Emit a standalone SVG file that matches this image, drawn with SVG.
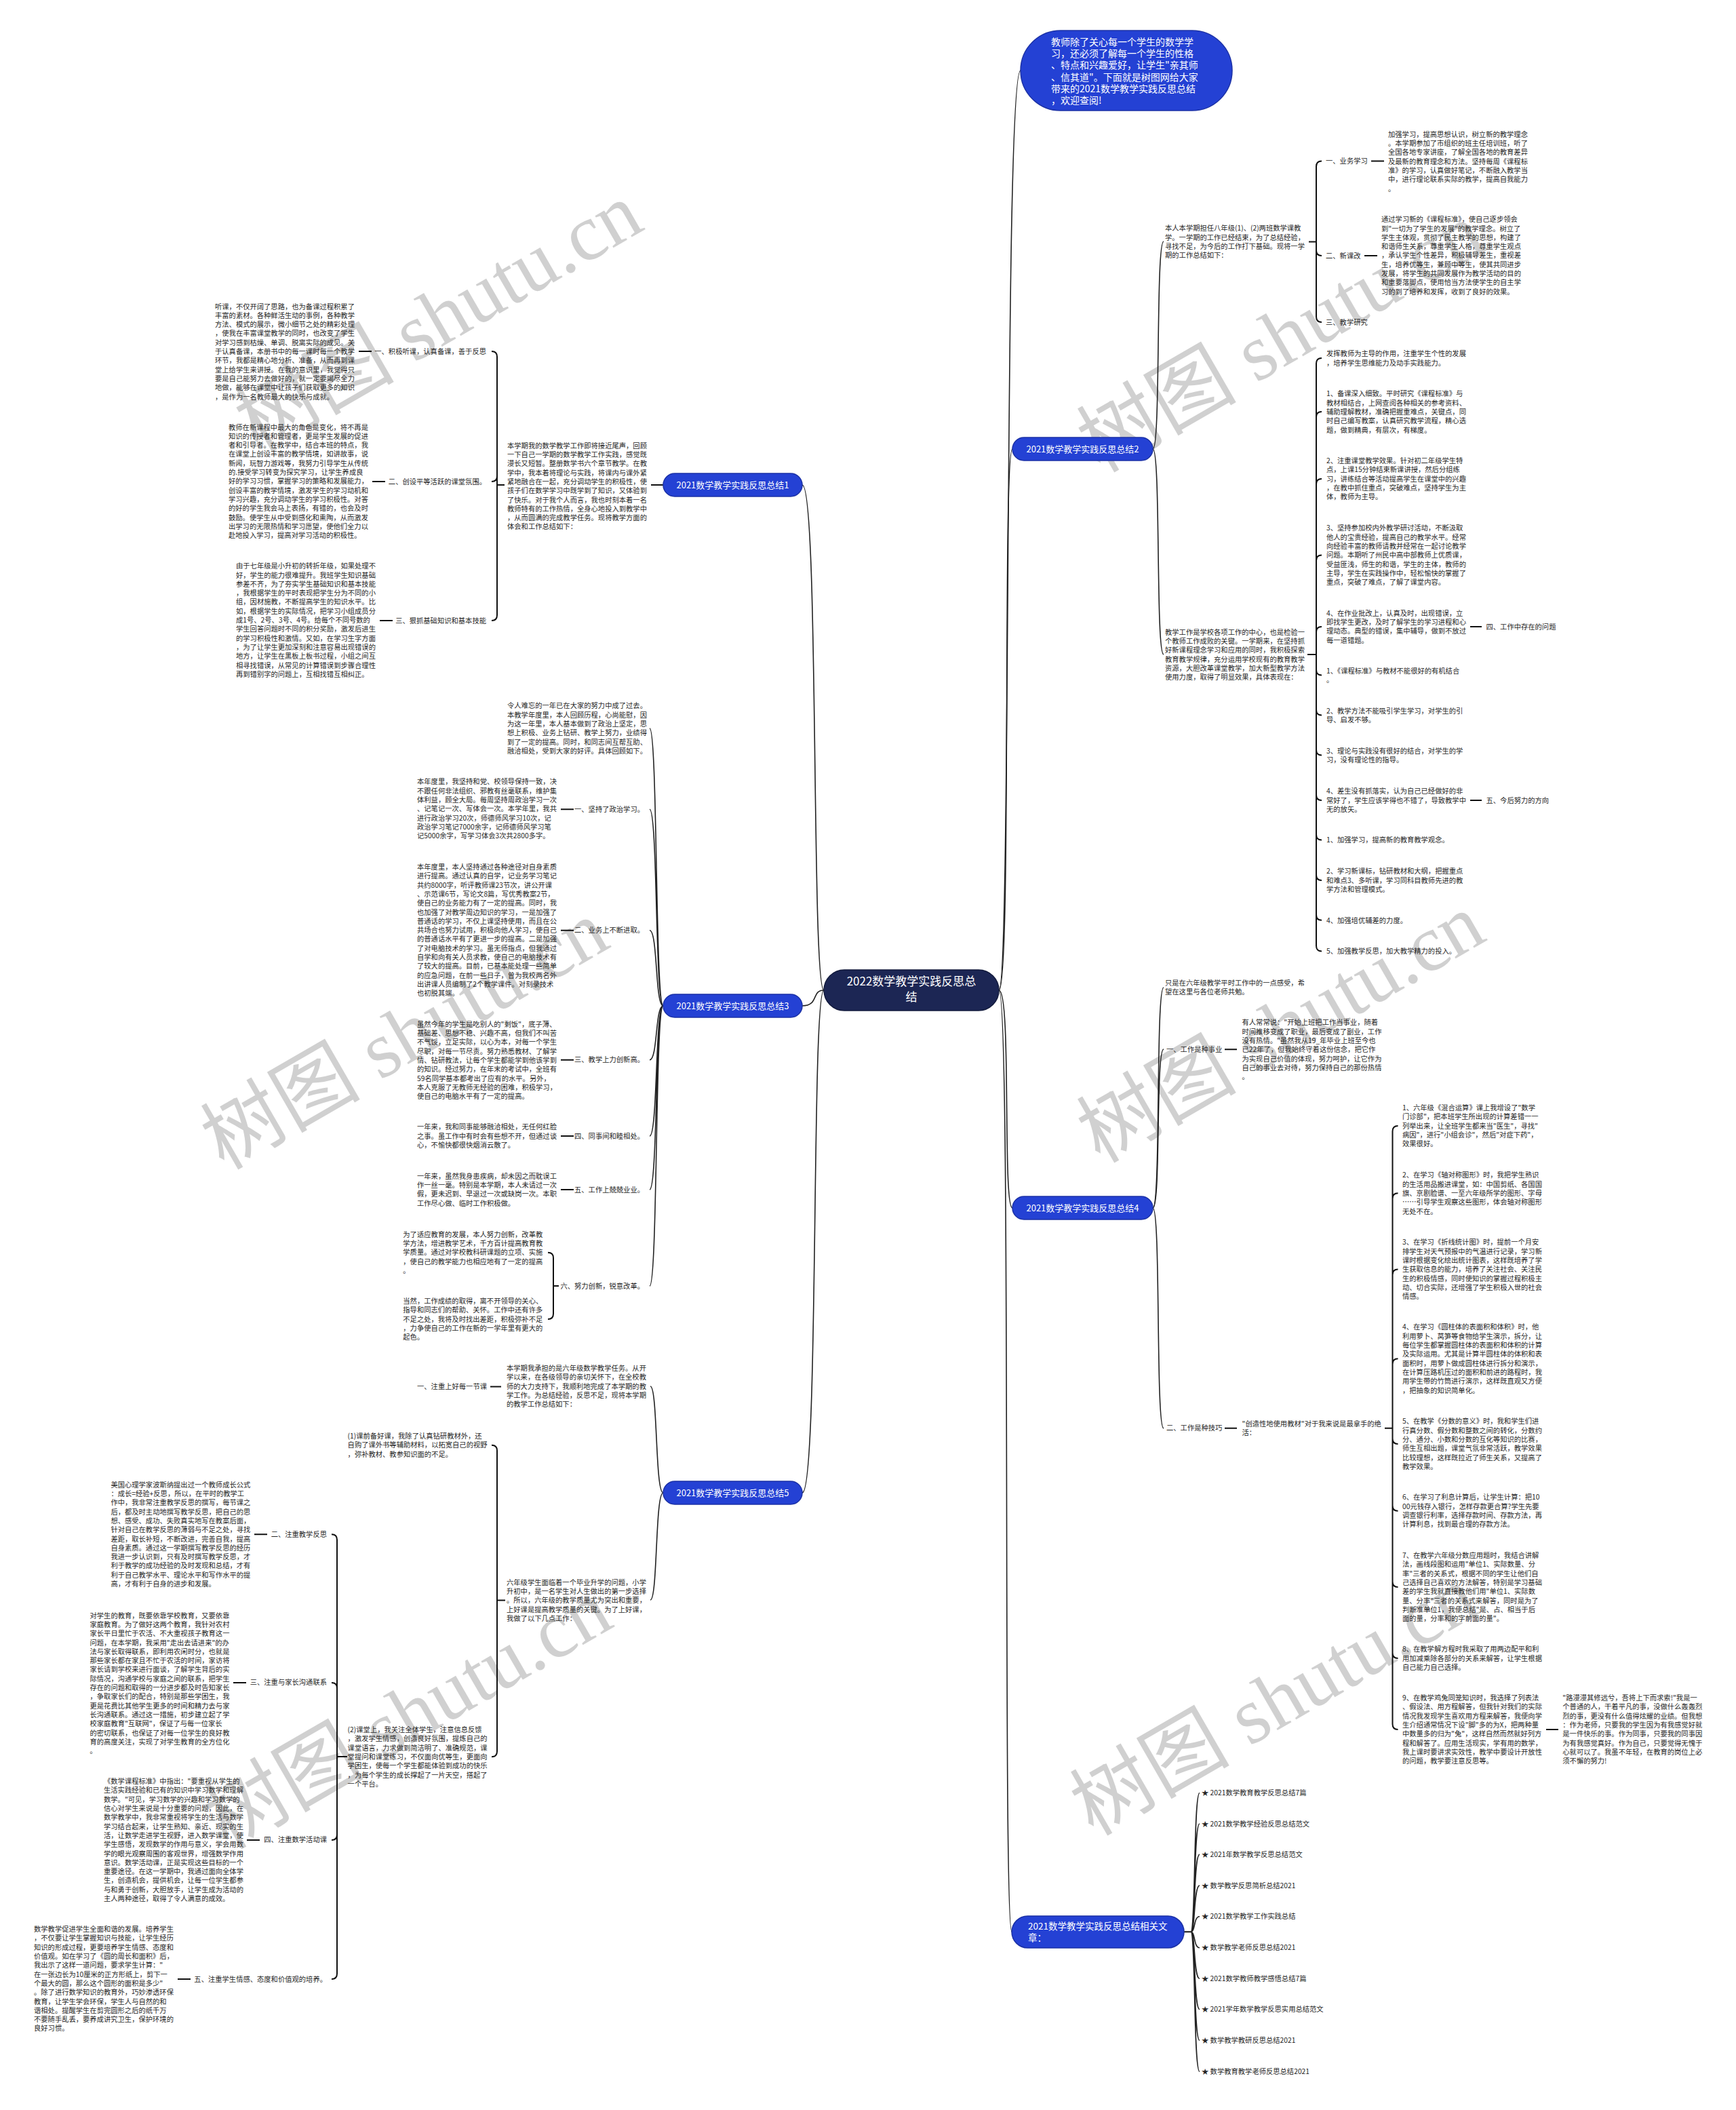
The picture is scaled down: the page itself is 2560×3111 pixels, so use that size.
<svg xmlns="http://www.w3.org/2000/svg" width="2560" height="3111" viewBox="0 0 2560 3111">
<style>
.t{font-family:"Noto Sans CJK SC","Noto Sans",sans-serif;font-size:10.3px;fill:#262626}
.e{text-anchor:end}
.nt{font-family:"Noto Sans CJK SC","Noto Sans",sans-serif;font-size:13px;fill:#fff}
.node{fill:#2441d4;stroke:#1b31a6;stroke-width:1.5}
.ln{fill:none;stroke:#111;stroke-width:2}
.cv{fill:none;stroke:#222;stroke-width:1.6}
.wm{font-family:"Liberation Serif","Noto Sans CJK SC",serif;font-size:118px;fill:#bdbdbd;opacity:.7}
</style>
<rect width="2560" height="3111" fill="#fff"/>
<g id="watermarks">
<text class="wm" transform="translate(380,668) rotate(-30)">树图 shutu.cn</text>
<text class="wm" transform="translate(1622,698) rotate(-30)">树图 shutu.cn</text>
<text class="wm" transform="translate(330,1726) rotate(-30)">树图 shutu.cn</text>
<text class="wm" transform="translate(1622,1716) rotate(-30)">树图 shutu.cn</text>
<text class="wm" transform="translate(335,2728) rotate(-30)">树图 shutu.cn</text>
<text class="wm" transform="translate(1612,2708) rotate(-30)">树图 shutu.cn</text>
</g>
<g id="connectors">
<path class="cv" d="M1473,1460 C1492,1460 1480,104 1505,104"/>
<path class="cv" d="M1473,1460 C1492,1460 1478,662 1493,662"/>
<path class="cv" d="M1473,1460 C1492,1460 1478,1781 1493,1781"/>
<path class="cv" d="M1473,1460 C1492,1460 1478,2848 1492,2848"/>
<path class="cv" d="M1215,1460 C1196,1460 1208,715 1183,715"/>
<path class="cv" d="M1215,1460 C1196,1460 1208,1483 1183,1483"/>
<path class="cv" d="M1215,1460 C1196,1460 1208,2201 1183,2201"/>
<path class="cv" d="M1700,662 C1712,662 1704,356 1716,356"/>
<path class="cv" d="M1700,662 C1712,662 1704,965 1716,965"/>
<path class="ln" d="M1930,356.5H1941M1941,245.5V467M1941,245.5Q1941,237.5 1949,237.5M1941,369Q1941,377 1949,377M1941,467Q1941,475 1949,475"/>
<path class="ln" d="M2022,237.5H2041M2012,377H2031"/>
<path class="ln" d="M1928,965H1941M1941,536V1394.4M1941,536Q1941,528 1949,528M1941,615Q1941,607 1949,607M1941,714Q1941,706 1949,706M1941,826.6Q1941,818.6 1949,818.6M1941,932Q1941,924 1949,924M1941,987.6Q1941,995.6 1949,995.6M1941,1046.6Q1941,1054.6 1949,1054.6M1941,1105.6Q1941,1113.6 1949,1113.6M1941,1172Q1941,1180 1949,1180M1941,1230.6Q1941,1238.6 1949,1238.6M1941,1289.9Q1941,1297.9 1949,1297.9M1941,1348.8Q1941,1356.8 1949,1356.8M1941,1394.4Q1941,1402.4 1949,1402.4"/>
<path class="ln" d="M2168,924H2185M2168,1180H2185"/>
<path class="cv" d="M1700,1781 C1712,1781 1704,1456 1716,1456"/>
<path class="cv" d="M1700,1781 C1712,1781 1704,1547 1716,1547"/>
<path class="cv" d="M1700,1781 C1712,1781 1704,2106 1716,2106"/>
<path class="ln" d="M1806,1547.3H1824M1806,2105.7H1824M2042,2105.7H2053.5"/>
<path class="ln" d="M2053.5,1668V2542M2053.5,1668Q2053.5,1660 2061.5,1660M2053.5,1767.3Q2053.5,1759.3 2061.5,1759.3M2053.5,1879.6Q2053.5,1871.6 2061.5,1871.6M2053.5,2011.3Q2053.5,2003.3 2061.5,2003.3M2053.5,2121Q2053.5,2129 2061.5,2129M2053.5,2219.7Q2053.5,2227.7 2061.5,2227.7M2053.5,2331.9Q2053.5,2339.9 2061.5,2339.9M2053.5,2437Q2053.5,2445 2061.5,2445M2053.5,2541.9Q2053.5,2549.9 2061.5,2549.9"/>
<path class="ln" d="M2280,2550H2298"/>
<path class="ln" d="M1746,2848.3H1756"/>
<path class="cv" d="M1756,2848.3C1763,2848.3 1760,2643.5 1769,2643.5M1756,2848.3C1763,2848.3 1760,2689 1769,2689M1756,2848.3C1763,2848.3 1760,2734.3 1769,2734.3M1756,2848.3C1763,2848.3 1760,2780 1769,2780M1756,2848.3C1763,2848.3 1760,2825.7 1769,2825.7M1756,2848.3C1763,2848.3 1760,2871.7 1769,2871.7M1756,2848.3C1763,2848.3 1760,2917.3 1769,2917.3M1756,2848.3C1763,2848.3 1760,2962.7 1769,2962.7M1756,2848.3C1763,2848.3 1760,3008.3 1769,3008.3M1756,2848.3C1763,2848.3 1760,3054.3 1769,3054.3"/>
<path class="ln" d="M960,715H978"/>
<path class="ln" d="M744,715H733M733,526V907M733,526Q733,518 725,518M733,702Q733,710 725,710M733,907Q733,915 725,915"/>
<path class="ln" d="M529,518H548M549,710H568M560,915H579"/>
<path class="cv" d="M978,1483 C966,1483 970,1074 958,1074M978,1483 C966,1483 970,1193.3 958,1193.3M978,1483 C966,1483 970,1371.7 958,1371.7M978,1483 C966,1483 970,1562.7 958,1562.7M978,1483 C966,1483 970,1675 958,1675M978,1483 C966,1483 970,1754 958,1754M978,1483 C966,1483 970,1896 958,1896"/>
<path class="ln" d="M827,1193.3H846M827,1371.7H846M827,1562.7H846M827,1675H846M827,1754H846"/>
<path class="ln" d="M824,1896H816M816,1854.7V1937M816,1854.7Q816,1846.7 808,1846.7M816,1937Q816,1945 808,1945"/>
<path class="cv" d="M978,2201 C966,2201 970,2044 959,2044M978,2201 C966,2201 970,2359 959,2359"/>
<path class="ln" d="M723,2044.5H739"/>
<path class="ln" d="M745,2359.5H733M733,2138.7V2582.2M733,2138.7Q733,2130.7 725,2130.7M733,2582.2Q733,2590.2 725,2590.2"/>
<path class="ln" d="M512,2590H497M497,2270.3V2910M497,2270.3Q497,2262.3 489,2262.3M497,2489Q497,2481 489,2481M497,2704.9Q497,2712.9 489,2712.9M497,2910Q497,2918 489,2918"/>
<path class="ln" d="M375,2262.3H394M344,2481H363M364,2712.9H383M262,2918H281"/>
</g>
<g id="center">
<rect x="1215" y="1430" width="258" height="60" rx="30" fill="#1c2654" stroke="#121a3c" stroke-width="1.5"/>
<text class="nt" style="font-size:17px" text-anchor="middle" x="1344" y="1453">2022数学教学实践反思总<tspan x="1344" dy="23">结</tspan></text>
</g>
<g id="top-node">
<rect class="node" x="1505" y="45" width="312" height="118" rx="59"/>
<text class="nt" style="font-size:14px" x="1550" y="66.7">教师除了关心每一个学生的数学学<tspan x="1550" dy="17.3">习，还必须了解每一个学生的性格</tspan><tspan x="1550" dy="17.3">、特点和兴趣爱好，让学生"亲其师</tspan><tspan x="1550" dy="17.3">、信其道"。下面就是树图网给大家</tspan><tspan x="1550" dy="17.3">带来的2021数学教学实践反思总结</tspan><tspan x="1550" dy="17.3">，欢迎查阅!</tspan></text>
</g>
<g id="branch2">
<rect class="node" x="1493" y="645" width="207" height="34" rx="17"/>
<text class="nt" text-anchor="middle" x="1596.5" y="666.5">2021数学教学实践反思总结2</text>
</g>
<g id="b2-intro1"><text class="t" x="1718" y="340.4">本人本学期担任八年级(1)、(2)两班数学课教<tspan x="1718" dy="13.3">学。一学期的工作已经结束，为了总结经验，</tspan><tspan x="1718" dy="13.3">寻找不足，为今后的工作打下基础。现将一学</tspan><tspan x="1718" dy="13.3">期的工作总结如下：</tspan></text></g>
<g id="b2-yewu"><text class="t" x="1955" y="241.2">一、业务学习</text></g>
<g id="b2-yewu-t"><text class="t" x="2047" y="201.7">加强学习，提高思想认识，树立新的教学理念<tspan x="2047" dy="13.3">。本学期参加了市组织的班主任培训班，听了</tspan><tspan x="2047" dy="13.3">全国各地专家讲座，了解全国各地的教育差异</tspan><tspan x="2047" dy="13.3">及最新的教育理念和方法。坚持每周《课程标</tspan><tspan x="2047" dy="13.3">准》的学习，认真做好笔记，不断融入教学当</tspan><tspan x="2047" dy="13.3">中，进行理论联系实际的教学，提高自我能力</tspan><tspan x="2047" dy="13.3">。</tspan></text></g>
<g id="b2-xinkegai"><text class="t" x="1955" y="380.7">二、新课改</text></g>
<g id="b2-xinkegai-t"><text class="t" x="2037" y="327.2">通过学习新的《课程标准》，使自己逐步领会<tspan x="2037" dy="13.3">到"一切为了学生的发展"的教学理念。树立了</tspan><tspan x="2037" dy="13.3">学生主体观，贯彻了民主教学的思想，构建了</tspan><tspan x="2037" dy="13.3">和谐师生关系，尊重学生人格，尊重学生观点</tspan><tspan x="2037" dy="13.3">，承认学生个性差异，积极辅导差生，重视差</tspan><tspan x="2037" dy="13.3">生，培养优等生，兼顾中等生，使其共同进步</tspan><tspan x="2037" dy="13.3">发展，将学生的共同发展作为教学活动的目的</tspan><tspan x="2037" dy="13.3">和重要落脚点，使用恰当方法使学生的自主学</tspan><tspan x="2037" dy="13.3">习的到了培养和发挥，收到了良好的效果。</tspan></text></g>
<g id="b2-yanjiu"><text class="t" x="1955" y="478.7">三、教学研究</text></g>
<g id="b2-intro2"><text class="t" x="1718" y="935.7">教学工作是学校各项工作的中心，也是检验一<tspan x="1718" dy="13.3">个教师工作成败的关键。一学期来，在坚持抓</tspan><tspan x="1718" dy="13.3">好新课程理念学习和应用的同时，我积极探索</tspan><tspan x="1718" dy="13.3">教育教学规律，充分运用学校现有的教育教学</tspan><tspan x="1718" dy="13.3">资源，大胆改革课堂教学，加大新型教学方法</tspan><tspan x="1718" dy="13.3">使用力度，取得了明显效果，具体表现在：</tspan></text></g>
<g id="b2-a"><text class="t" x="1956" y="525.2">发挥教师为主导的作用，注重学生个性的发展<tspan x="1956" dy="13.3">，培养学生思维能力及动手实践能力。</tspan></text></g>
<g id="b2-b"><text class="t" x="1956" y="584.3">1、备课深入细致。平时研究《课程标准》与<tspan x="1956" dy="13.3">教材相结合，上网查阅各种相关的参考资料、</tspan><tspan x="1956" dy="13.3">辅助理解教材，准确把握重难点，关键点，同</tspan><tspan x="1956" dy="13.3">时自己编写教案，认真研究教学流程，精心选</tspan><tspan x="1956" dy="13.3">题，做到精典，有层次，有梯度。</tspan></text></g>
<g id="b2-c"><text class="t" x="1956" y="683.1">2、注重课堂教学效果。针对初二年级学生特<tspan x="1956" dy="13.3">点，上课15分钟结束新课讲授，然后分组练</tspan><tspan x="1956" dy="13.3">习，讲练结合等活动提高学生在课堂中的兴趣</tspan><tspan x="1956" dy="13.3">，在教中抓住重点，突破难点，坚持学生为主</tspan><tspan x="1956" dy="13.3">体，教师为主导。</tspan></text></g>
<g id="b2-d"><text class="t" x="1956" y="782.4">3、坚持参加校内外教学研讨活动，不断汲取<tspan x="1956" dy="13.3">他人的宝贵经验，提高自己的教学水平。经常</tspan><tspan x="1956" dy="13.3">向经验丰富的教师请教并经常在一起讨论教学</tspan><tspan x="1956" dy="13.3">问题。本期听了州民中高中部教师上优质课，</tspan><tspan x="1956" dy="13.3">受益匪浅，师生的和谐，学生的主体，教师的</tspan><tspan x="1956" dy="13.3">主导，学生在实践操作中，轻松愉快的掌握了</tspan><tspan x="1956" dy="13.3">重点，突破了难点，了解了课堂内容。</tspan></text></g>
<g id="b2-e"><text class="t" x="1956" y="907.7">4、在作业批改上，认真及时，出现错误，立<tspan x="1956" dy="13.3">即找学生更改，及时了解学生的学习进程和心</tspan><tspan x="1956" dy="13.3">理动态。典型的错误，集中辅导，做到不放过</tspan><tspan x="1956" dy="13.3">每一道错题。</tspan></text></g>
<g id="b2-wenti"><text class="t" x="2191.5" y="927.7">四、工作中存在的问题</text></g>
<g id="b2-f"><text class="t" x="1956" y="992.7">1、《课程标准》与教材不能很好的有机结合<tspan x="1956" dy="13.3">。</tspan></text></g>
<g id="b2-g"><text class="t" x="1956" y="1051.7">2、教学方法不能吸引学生学习，对学生的引<tspan x="1956" dy="13.3">导、启发不够。</tspan></text></g>
<g id="b2-h"><text class="t" x="1956" y="1110.7">3、理论与实践没有很好的结合，对学生的学<tspan x="1956" dy="13.3">习，没有理论性的指导。</tspan></text></g>
<g id="b2-i"><text class="t" x="1956" y="1170.2">4、差生没有抓落实，认为自己已经做好的非<tspan x="1956" dy="13.3">常好了，学生应该学得也不错了，导致教学中</tspan><tspan x="1956" dy="13.3">无的放矢。</tspan></text></g>
<g id="b2-fangxiang"><text class="t" x="2191.5" y="1183.7">五、今后努力的方向</text></g>
<g id="b2-j"><text class="t" x="1956" y="1242.3">1、加强学习，提高新的教育教学观念。</text></g>
<g id="b2-k"><text class="t" x="1956" y="1288.3">2、学习新课标，钻研教材和大纲，把握重点<tspan x="1956" dy="13.3">和难点3、多听课，学习同科目教师先进的教</tspan><tspan x="1956" dy="13.3">学方法和管理模式。</tspan></text></g>
<g id="b2-l"><text class="t" x="1956" y="1360.5">4、加强培优辅差的力度。</text></g>
<g id="b2-m"><text class="t" x="1956" y="1406.1">5、加强教学反思，加大教学精力的投入。</text></g>
<g id="branch4">
<rect class="node" x="1493" y="1764" width="207" height="34" rx="17"/>
<text class="nt" text-anchor="middle" x="1596.5" y="1785.5">2021数学教学实践反思总结4</text>
</g>
<g id="b4-intro"><text class="t" x="1718" y="1453">只是在六年级教学平时工作中的一点感受，希<tspan x="1718" dy="13.3">望在这里与各位老师共勉。</tspan></text></g>
<g id="b4-shiye"><text class="t" x="1720" y="1551">一、工作是种事业</text></g>
<g id="b4-shiye-t"><text class="t" x="1831.5" y="1511.4">有人常常说："开始上班把工作当事业，随着<tspan x="1831.5" dy="13.3">时间推移变成了职业，最后变成了副业，工作</tspan><tspan x="1831.5" dy="13.3">没有热情。"虽然我从19_年毕业上班至今也</tspan><tspan x="1831.5" dy="13.3">已22年了，但我始终守着这份信念，把它作</tspan><tspan x="1831.5" dy="13.3">为实现自己价值的体现，努力呵护，让它作为</tspan><tspan x="1831.5" dy="13.3">自己的事业去对待，努力保持自己的那份热情</tspan><tspan x="1831.5" dy="13.3">。</tspan></text></g>
<g id="b4-jiqiao"><text class="t" x="1720" y="2109.4">二、工作是种技巧</text></g>
<g id="b4-jiqiao-t"><text class="t" x="1831.5" y="2102.7">"创造性地使用教材"对于我来说是最拿手的绝<tspan x="1831.5" dy="13.3">活：</tspan></text></g>
<g id="b4-1"><text class="t" x="2068" y="1637">1、六年级《混合运算》课上我增设了"数学<tspan x="2068" dy="13.3">门诊部"，把本班学生所出现的计算差错一一</tspan><tspan x="2068" dy="13.3">列举出来，让全班学生都来当"医生"，寻找"</tspan><tspan x="2068" dy="13.3">病因"，进行"小组会诊"，然后"对症下药"，</tspan><tspan x="2068" dy="13.3">效果很好。</tspan></text></g>
<g id="b4-2"><text class="t" x="2068" y="1736.4">2、在学习《轴对称图形》时，我把学生熟识<tspan x="2068" dy="13.3">的生活用品搬进课堂，如：中国剪纸、各国国</tspan><tspan x="2068" dy="13.3">旗、京剧脸谱、一至六年级所学的图形、字母</tspan><tspan x="2068" dy="13.3">……引导学生观察这些图形，体会轴对称图形</tspan><tspan x="2068" dy="13.3">无处不在。</tspan></text></g>
<g id="b4-3"><text class="t" x="2068" y="1835.4">3、在学习《折线统计图》时，提前一个月安<tspan x="2068" dy="13.3">排学生对天气预报中的气温进行记录，学习新</tspan><tspan x="2068" dy="13.3">课时根据变化绘出统计图表，这样既培养了学</tspan><tspan x="2068" dy="13.3">生获取信息的能力，培养了关注社会、关注民</tspan><tspan x="2068" dy="13.3">生的积极情感，同时使知识的掌握过程积极主</tspan><tspan x="2068" dy="13.3">动、切合实际，还增强了学生积极入世的社会</tspan><tspan x="2068" dy="13.3">情感。</tspan></text></g>
<g id="b4-4"><text class="t" x="2068" y="1960.4">4、在学习《圆柱体的表面积和体积》时，他<tspan x="2068" dy="13.3">利用萝卜、莴笋等食物给学生演示，拆分，让</tspan><tspan x="2068" dy="13.3">每位学生都掌握圆柱体的表面积和体积的计算</tspan><tspan x="2068" dy="13.3">及实际运用。尤其是计算半圆柱体的体积和表</tspan><tspan x="2068" dy="13.3">面积时，用萝卜做成圆柱体进行拆分和演示，</tspan><tspan x="2068" dy="13.3">在计算压路机压过的面积和前进的路程时，我</tspan><tspan x="2068" dy="13.3">用学生带的竹筒进行演示，这样既直观又方便</tspan><tspan x="2068" dy="13.3">，把抽象的知识简单化。</tspan></text></g>
<g id="b4-5"><text class="t" x="2068" y="2099.4">5、在教学《分数的意义》时，我和学生们进<tspan x="2068" dy="13.3">行真分数、假分数和整数之间的转化，分数约</tspan><tspan x="2068" dy="13.3">分、通分、小数和分数的互化等知识的比赛，</tspan><tspan x="2068" dy="13.3">师生互相出题，课堂气氛非常活跃，教学效果</tspan><tspan x="2068" dy="13.3">比较理想，这样既拉近了师生关系，又提高了</tspan><tspan x="2068" dy="13.3">教学效果。</tspan></text></g>
<g id="b4-6"><text class="t" x="2068" y="2211.4">6、在学习了利息计算后，让学生计算：把10<tspan x="2068" dy="13.3">00元钱存入银行，怎样存款更合算?学生先要</tspan><tspan x="2068" dy="13.3">调查银行利率，选择存款时间、存款方法，再</tspan><tspan x="2068" dy="13.3">计算利息，找到最合理的存款方法。</tspan></text></g>
<g id="b4-7"><text class="t" x="2068" y="2297">7、在教学六年级分数应用题时，我结合讲解<tspan x="2068" dy="13.3">法，画线段图和运用"单位1、实际数量、分</tspan><tspan x="2068" dy="13.3">率"三者的关系式，根据不同的学生让他们自</tspan><tspan x="2068" dy="13.3">己选择自己喜欢的方法解答，特别是学习基础</tspan><tspan x="2068" dy="13.3">差的学生我就直接教他们用"单位1、实际数</tspan><tspan x="2068" dy="13.3">量、分率"三者的关系式来解答，同时是为了</tspan><tspan x="2068" dy="13.3">判断准单位1，我便总结"是、占、相当于后</tspan><tspan x="2068" dy="13.3">面的量，分率和的字前面的量"。</tspan></text></g>
<g id="b4-8"><text class="t" x="2068" y="2435.4">8、在教学解方程时我采取了用两边配平和利<tspan x="2068" dy="13.3">用加减乘除各部分的关系来解答，让学生根据</tspan><tspan x="2068" dy="13.3">自己能力自己选择。</tspan></text></g>
<g id="b4-9"><text class="t" x="2068" y="2507">9、在教学鸡兔同笼知识时，我选择了列表法<tspan x="2068" dy="13.3">、假设法、用方程解答，但我针对我们的实际</tspan><tspan x="2068" dy="13.3">情况我发现学生喜欢用方程来解答，我便向学</tspan><tspan x="2068" dy="13.3">生介绍通常情况下设"脚"多的为X，把两种量</tspan><tspan x="2068" dy="13.3">中数量多的归为"兔"，这样自然而然就好列方</tspan><tspan x="2068" dy="13.3">程和解答了。应用生活现实，学有用的数学，</tspan><tspan x="2068" dy="13.3">我上课时要讲求实效性，教学中要设计开放性</tspan><tspan x="2068" dy="13.3">的问题，教学要注意反思等。</tspan></text></g>
<g id="b4-end"><text class="t" x="2304.3" y="2507">"路漫漫其修远兮，吾将上下而求索!"我是一<tspan x="2304.3" dy="13.3">个普通的人，干着平凡的事，没做什么轰轰烈</tspan><tspan x="2304.3" dy="13.3">烈的事，更没有什么值得炫耀的业绩。但我想</tspan><tspan x="2304.3" dy="13.3">：作为老师，只要我的学生因为有我感觉好就</tspan><tspan x="2304.3" dy="13.3">是一件快乐的事。作为同事，只要我的同事因</tspan><tspan x="2304.3" dy="13.3">为有我感觉真好。作为自己，只要觉得无愧于</tspan><tspan x="2304.3" dy="13.3">心就可以了。我虽不年轻，在教育的岗位上必</tspan><tspan x="2304.3" dy="13.3">须不懈的努力!</tspan></text></g>
<g id="related">
<rect class="node" x="1492" y="2825" width="254" height="47" rx="23.5"/>
<text class="nt" style="font-size:13.5px" x="1516" y="2845">2021数学教学实践反思总结相关文<tspan x="1516" dy="17.3">章：</tspan></text>
</g>
<g id="related-items">
<text class="t" x="1772" y="2647.2">★ 2021数学教育教学反思总结7篇</text>
<text class="t" x="1772" y="2692.7">★ 2021数学教学经验反思总结范文</text>
<text class="t" x="1772" y="2738">★ 2021年数学教学反思总结范文</text>
<text class="t" x="1772" y="2783.7">★ 数学教学反思简析总结2021</text>
<text class="t" x="1772" y="2829.4">★ 2021数学教学工作实践总结</text>
<text class="t" x="1772" y="2875.4">★ 数学教学老师反思总结2021</text>
<text class="t" x="1772" y="2921">★ 2021数学教师教学感悟总结7篇</text>
<text class="t" x="1772" y="2966.4">★ 2021学年数学教学反思实用总结范文</text>
<text class="t" x="1772" y="3012">★ 数学教学教研反思总结2021</text>
<text class="t" x="1772" y="3058">★ 数学教育教学老师反思总结2021</text>
</g>
<g id="branch1">
<rect class="node" x="978" y="698" width="205" height="34" rx="17"/>
<text class="nt" text-anchor="middle" x="1080.5" y="719.5">2021数学教学实践反思总结1</text>
</g>
<g id="b1-intro"><text class="t" x="748" y="660.7">本学期我的数学教学工作即将接近尾声，回顾<tspan x="748" dy="13.3">一下自己一学期的数学教学工作实践，感觉既</tspan><tspan x="748" dy="13.3">漫长又短暂。整册数学书六个章节教学。在教</tspan><tspan x="748" dy="13.3">学中，我本着将理论与实践，将课内与课外紧</tspan><tspan x="748" dy="13.3">紧地融合在一起，充分调动学生的积极性，使</tspan><tspan x="748" dy="13.3">孩子们在数学学习中既学到了知识，又体验到</tspan><tspan x="748" dy="13.3">了快乐。对于我个人而言，我也时刻本着一名</tspan><tspan x="748" dy="13.3">教师特有的工作热情，全身心地投入到教学中</tspan><tspan x="748" dy="13.3">，从而圆满的完成教学任务。现将教学方面的</tspan><tspan x="748" dy="13.3">体会和工作总结如下：</tspan></text></g>
<g id="b1-l1"><text class="t e" x="717" y="521.7">一、积极听课，认真备课，善于反思</text></g>
<g id="b1-t1"><text class="t" x="317" y="455.5">听课，不仅开阔了思路，也为备课过程积累了<tspan x="317" dy="13.3">丰富的素材。各种鲜活生动的事例，各种教学</tspan><tspan x="317" dy="13.3">方法、模式的展示，微小细节之处的精彩处理</tspan><tspan x="317" dy="13.3">，使我在丰富课堂教学的同时，也改变了学生</tspan><tspan x="317" dy="13.3">对学习感到枯燥、单调、脱离实际的成见。关</tspan><tspan x="317" dy="13.3">于认真备课，本册书中的每一课时每一个教学</tspan><tspan x="317" dy="13.3">环节，我都是精心地分析、准备，从而再到课</tspan><tspan x="317" dy="13.3">堂上给学生来讲授。在我的意识里，我觉得只</tspan><tspan x="317" dy="13.3">要是自己能努力去做好的，就一定要竭尽全力</tspan><tspan x="317" dy="13.3">地做，能够在课堂中让孩子们获取更多的知识</tspan><tspan x="317" dy="13.3">，是作为一名教师最大的快乐与成就。</tspan></text></g>
<g id="b1-l2"><text class="t e" x="717" y="713.7">二、创设平等活跃的课堂氛围。</text></g>
<g id="b1-t2"><text class="t" x="337" y="633.5">教师在新课程中最大的角色是变化，将不再是<tspan x="337" dy="13.3">知识的传授者和管理者，更是学生发展的促进</tspan><tspan x="337" dy="13.3">者和引导者。在教学中，结合本班的特点，我</tspan><tspan x="337" dy="13.3">在课堂上创设丰富的教学情境，如讲故事，说</tspan><tspan x="337" dy="13.3">新闻，玩智力游戏等，我努力引导学生从传统</tspan><tspan x="337" dy="13.3">的.接受学习转变为探究学习，让学生养成良</tspan><tspan x="337" dy="13.3">好的学习习惯，掌握学习的策略和发展能力，</tspan><tspan x="337" dy="13.3">创设丰富的教学情境，激发学生的学习动机和</tspan><tspan x="337" dy="13.3">学习兴趣，充分调动学生的学习积极性。对答</tspan><tspan x="337" dy="13.3">的好的学生我会马上表扬，有错的，也会及时</tspan><tspan x="337" dy="13.3">鼓励。使学生从中受到感化和熏陶，从而激发</tspan><tspan x="337" dy="13.3">出学习的无限热情和学习愿望，使他们全力以</tspan><tspan x="337" dy="13.3">赴地投入学习，提高对学习活动的积极性。</tspan></text></g>
<g id="b1-l3"><text class="t e" x="717" y="918.7">三、狠抓基础知识和基本技能</text></g>
<g id="b1-t3"><text class="t" x="348" y="838.2">由于七年级是小升初的转折年级，如果处理不<tspan x="348" dy="13.3">好，学生的能力很难提升。我班学生知识基础</tspan><tspan x="348" dy="13.3">参差不齐，为了夯实学生基础知识和基本技能</tspan><tspan x="348" dy="13.3">，我根据学生的平时表现把学生分为不同的小</tspan><tspan x="348" dy="13.3">组，因材施教，不断提高学生的知识水平。比</tspan><tspan x="348" dy="13.3">如，根据学生的实际情况，把学习小组成员分</tspan><tspan x="348" dy="13.3">成1号、2号、3号、4号。给每个不同号数的</tspan><tspan x="348" dy="13.3">学生回答问题时不同的积分奖励，激发后进生</tspan><tspan x="348" dy="13.3">的学习积极性和激情。又如，在学习生字方面</tspan><tspan x="348" dy="13.3">，为了让学生更加深刻和注意容易出现错误的</tspan><tspan x="348" dy="13.3">地方，让学生在黑板上板书过程，小组之间互</tspan><tspan x="348" dy="13.3">相寻找错误，从常见的计算错误到步骤合理性</tspan><tspan x="348" dy="13.3">再到错别字的问题上，互相找错互相纠正。</tspan></text></g>
<g id="branch3">
<rect class="node" x="978" y="1466" width="205" height="34" rx="17"/>
<text class="nt" text-anchor="middle" x="1080.5" y="1487.5">2021数学教学实践反思总结3</text>
</g>
<g id="b3-intro"><text class="t" x="748" y="1044.4">令人难忘的一年已在大家的努力中成了过去。<tspan x="748" dy="13.3">本教学年度里，本人回顾历程，心尚能慰，因</tspan><tspan x="748" dy="13.3">为这一年里，本人基本做到了政治上坚定，思</tspan><tspan x="748" dy="13.3">想上积极、业务上钻研、教学上努力，业绩得</tspan><tspan x="748" dy="13.3">到了一定的提高。同时，和同志间互帮互助、</tspan><tspan x="748" dy="13.3">融洽相处，受到大家的好评。具体回顾如下。</tspan></text></g>
<g id="b3-l1"><text class="t e" x="950" y="1197">一、坚持了政治学习。</text></g>
<g id="b3-t1"><text class="t" x="615" y="1156.4">本年度里，我坚持和党、校领导保持一致，决<tspan x="615" dy="13.3">不跟任何非法组织、邪教有丝毫联系，维护集</tspan><tspan x="615" dy="13.3">体利益，顾全大局。每周坚持周政治学习一次</tspan><tspan x="615" dy="13.3">、记笔记一次、写体会一次。本学年里，我共</tspan><tspan x="615" dy="13.3">进行政治学习20次，师德师风学习10次，记</tspan><tspan x="615" dy="13.3">政治学习笔记7000余字，记师德师风学习笔</tspan><tspan x="615" dy="13.3">记5000余字，写学习体会3次共2800多字。</tspan></text></g>
<g id="b3-l2"><text class="t e" x="950" y="1375.4">二、业务上不断进取。</text></g>
<g id="b3-t2"><text class="t" x="615" y="1282">本年度里，本人坚持通过各种途径对自身素质<tspan x="615" dy="13.3">进行提高。通过认真的自学，记业务学习笔记</tspan><tspan x="615" dy="13.3">共约8000字，听评教师课23节次，讲公开课</tspan><tspan x="615" dy="13.3">、示范课6节，写论文8篇，写优秀教案2节，</tspan><tspan x="615" dy="13.3">使自己的业务能力有了一定的提高。同时，我</tspan><tspan x="615" dy="13.3">也加强了对教学周边知识的学习，一是加强了</tspan><tspan x="615" dy="13.3">普通话的学习，不仅上课坚持使用，而且在公</tspan><tspan x="615" dy="13.3">共场合也努力试用，积极向他人学习，使自己</tspan><tspan x="615" dy="13.3">的普通话水平有了更进一步的提高。二是加强</tspan><tspan x="615" dy="13.3">了对电脑技术的学习。虽无师指点，但我通过</tspan><tspan x="615" dy="13.3">自学和向有关人员求教，使自己的电脑技术有</tspan><tspan x="615" dy="13.3">了较大的提高。目前，已基本能处理一些简单</tspan><tspan x="615" dy="13.3">的应急问题，在前一些日子，曾为我校两名外</tspan><tspan x="615" dy="13.3">出讲课人员编制了2个教学课件。对刻录技术</tspan><tspan x="615" dy="13.3">也初脱其端。</tspan></text></g>
<g id="b3-l3"><text class="t e" x="950" y="1566.4">三、教学上力创新高。</text></g>
<g id="b3-t3"><text class="t" x="615" y="1513.7">虽然今年的学生是吃别人的"剩饭"，底子薄、<tspan x="615" dy="13.3">基础差、思想不稳、兴趣不高，但我们不叫苦</tspan><tspan x="615" dy="13.3">不气馁，立足实际，以心为本，对每一个学生</tspan><tspan x="615" dy="13.3">尽职，对每一节尽责。努力熟悉教材、了解学</tspan><tspan x="615" dy="13.3">情、钻研教法，让每个学生都能学到他该学到</tspan><tspan x="615" dy="13.3">的知识。经过努力，在年末的考试中，全班有</tspan><tspan x="615" dy="13.3">59名同学基本都考出了应有的水平。另外，</tspan><tspan x="615" dy="13.3">本人克服了无教师无经验的困难，积极学习，</tspan><tspan x="615" dy="13.3">使自己的电脑水平有了一定的提高。</tspan></text></g>
<g id="b3-l4"><text class="t e" x="950" y="1678.7">四、同事间和睦相处。</text></g>
<g id="b3-t4"><text class="t" x="615" y="1665.4">一年来，我和同事能够融洽相处，无任何红脸<tspan x="615" dy="13.3">之事。虽工作中有时会有些想不开，但通过谈</tspan><tspan x="615" dy="13.3">心，不愉快都很快烟消云散了。</tspan></text></g>
<g id="b3-l5"><text class="t e" x="950" y="1757.7">五、工作上兢兢业业。</text></g>
<g id="b3-t5"><text class="t" x="615" y="1737.7">一年来，虽然我身患疾病，却未因之而耽误工<tspan x="615" dy="13.3">作一丝一毫。特别是本学期，本人未请过一次</tspan><tspan x="615" dy="13.3">假，更未迟到、早退过一次或缺岗一次。本职</tspan><tspan x="615" dy="13.3">工作尽心做、临时工作积极做。</tspan></text></g>
<g id="b3-l6"><text class="t e" x="950" y="1899.7">六、努力创新，锐意改革。</text></g>
<g id="b3-t6a"><text class="t" x="594.3" y="1823.7">为了适应教育的发展，本人努力创新，改革教<tspan x="594.3" dy="13.3">学方法，增进教学艺术，千方百计提高教育教</tspan><tspan x="594.3" dy="13.3">学质量。通过对学校教科研课题的立项、实施</tspan><tspan x="594.3" dy="13.3">，使自己的教学能力也相应地有了一定的提高</tspan><tspan x="594.3" dy="13.3">。</tspan></text></g>
<g id="b3-t6b"><text class="t" x="594.3" y="1922">当然，工作成绩的取得，离不开领导的关心、<tspan x="594.3" dy="13.3">指导和同志们的帮助、关怀。工作中还有许多</tspan><tspan x="594.3" dy="13.3">不足之处，我将及时找出差距，积极弥补不足</tspan><tspan x="594.3" dy="13.3">，力争使自己的工作在新的一学年里有更大的</tspan><tspan x="594.3" dy="13.3">起色。</tspan></text></g>
<g id="branch5">
<rect class="node" x="978" y="2184" width="205" height="34" rx="17"/>
<text class="nt" text-anchor="middle" x="1080.5" y="2205.5">2021数学教学实践反思总结5</text>
</g>
<g id="b5-intro1"><text class="t" x="747" y="2021.1">本学期我承担的是六年级数学教学任务。从开<tspan x="747" dy="13.3">学以来，在各级领导的亲切关怀下，在全校教</tspan><tspan x="747" dy="13.3">师的大力支持下，我顺利地完成了本学期的教</tspan><tspan x="747" dy="13.3">学工作。为总结经验，反思不足，现将本学期</tspan><tspan x="747" dy="13.3">的教学工作总结如下：</tspan></text></g>
<g id="b5-l1"><text class="t e" x="718" y="2048.2">一、注重上好每一节课</text></g>
<g id="b5-intro2"><text class="t" x="747" y="2336.6">六年级学生面临着一个毕业升学的问题，小学<tspan x="747" dy="13.3">升初中，是一名学生对人生做出的第一步选择</tspan><tspan x="747" dy="13.3">。所以，六年级的教学质量尤为突出和重要，</tspan><tspan x="747" dy="13.3">上好课是提高教学质量的关键。为了上好课，</tspan><tspan x="747" dy="13.3">我做了以下几点工作：</tspan></text></g>
<g id="b5-p1"><text class="t" x="512.6" y="2120.9">(1)课前备好课，我除了认真钻研教材外，还<tspan x="512.6" dy="13.3">自购了课外书等辅助材料，以拓宽自己的视野</tspan><tspan x="512.6" dy="13.3">，弥补教材、教参知识面的不足。</tspan></text></g>
<g id="b5-p2"><text class="t" x="512.6" y="2554">(2)课堂上，我关注全体学生，注意信息反馈<tspan x="512.6" dy="13.3">，激发学生情感，创造良好氛围，提炼自己的</tspan><tspan x="512.6" dy="13.3">课堂语言，力求做到简洁明了、准确规范，课</tspan><tspan x="512.6" dy="13.3">堂提问和课堂练习，不仅面向优等生，更面向</tspan><tspan x="512.6" dy="13.3">学困生，使每一个学生都能体验到成功的快乐</tspan><tspan x="512.6" dy="13.3">，为每个学生的成长撑起了一片天空，搭起了</tspan><tspan x="512.6" dy="13.3">一个平台。</tspan></text></g>
<g id="b5-l2"><text class="t e" x="482" y="2266">二、注重教学反思</text></g>
<g id="b5-t2"><text class="t" x="163.4" y="2192.7">美国心理学家波斯纳提出过一个教师成长公式<tspan x="163.4" dy="13.3">：成长=经验+反思，所以，在平时的教学工</tspan><tspan x="163.4" dy="13.3">作中，我非常注重教学反思的撰写，每节课之</tspan><tspan x="163.4" dy="13.3">后，都及时主动地撰写教学反思，把自己的思</tspan><tspan x="163.4" dy="13.3">想、感受、成功、失败真实地写在教案后面，</tspan><tspan x="163.4" dy="13.3">针对自己在教学反思的薄弱与不足之处，寻找</tspan><tspan x="163.4" dy="13.3">差距，取长补短，不断改进，完善自我，提高</tspan><tspan x="163.4" dy="13.3">自身素质。通过这一学期撰写教学反思的经历</tspan><tspan x="163.4" dy="13.3">我进一步认识到，只有及时撰写教学反思，才</tspan><tspan x="163.4" dy="13.3">利于教学的成功经验的及时发现和总结，才有</tspan><tspan x="163.4" dy="13.3">利于自己教学水平、理论水平和写作水平的提</tspan><tspan x="163.4" dy="13.3">高，才有利于自身的进步和发展。</tspan></text></g>
<g id="b5-l3"><text class="t e" x="482" y="2484.3">三、注重与家长沟通联系</text></g>
<g id="b5-t3"><text class="t" x="132.5" y="2385.6">对学生的教育，既要依靠学校教育，又要依靠<tspan x="132.5" dy="13.3">家庭教育。为了做好这两个教育，我针对农村</tspan><tspan x="132.5" dy="13.3">家长平日里忙于农活、不大重视孩子教育这一</tspan><tspan x="132.5" dy="13.3">问题，在本学期，我采用"走出去请进来"的办</tspan><tspan x="132.5" dy="13.3">法与家长取得联系，即利用农闲时分，也就是</tspan><tspan x="132.5" dy="13.3">那些家长都在家且不忙于农活的时间，家访将</tspan><tspan x="132.5" dy="13.3">家长请到学校来进行面谈，了解学生背后的实</tspan><tspan x="132.5" dy="13.3">际情况，沟通学校与家庭之间的联系，把学生</tspan><tspan x="132.5" dy="13.3">存在的问题和取得的一分进步都及时告知家长</tspan><tspan x="132.5" dy="13.3">，争取家长们的配合，特别是那些学困生，我</tspan><tspan x="132.5" dy="13.3">更是花费比其他学生更多的时间和精力去与家</tspan><tspan x="132.5" dy="13.3">长沟通联系。通过这一措施，初步建立起了学</tspan><tspan x="132.5" dy="13.3">校家庭教育"互联网"，保证了与每一位家长</tspan><tspan x="132.5" dy="13.3">的密切联系，也保证了对每一位学生的良好教</tspan><tspan x="132.5" dy="13.3">育的高度关注，实现了对学生教育的全方位化</tspan><tspan x="132.5" dy="13.3">。</tspan></text></g>
<g id="b5-l4"><text class="t e" x="482" y="2716.3">四、注重数学活动课</text></g>
<g id="b5-t4"><text class="t" x="153" y="2630.1">《数学课程标准》中指出："要重视从学生的<tspan x="153" dy="13.3">生活实践经验和已有的知识中学习数学和理解</tspan><tspan x="153" dy="13.3">数学。"可见，学习数学的兴趣和学习数学的</tspan><tspan x="153" dy="13.3">信心对学生来说是十分重要的问题，因此，在</tspan><tspan x="153" dy="13.3">数学教学中，我非常重视将学生的生活与数学</tspan><tspan x="153" dy="13.3">学习结合起来，让学生熟知、亲近、现实的生</tspan><tspan x="153" dy="13.3">活，让数学走进学生视野，进入数学课堂，使</tspan><tspan x="153" dy="13.3">学生感悟，发现数学的作用与意义，学会用数</tspan><tspan x="153" dy="13.3">学的眼光观察周围的客观世界，增强数学作用</tspan><tspan x="153" dy="13.3">意识。数学活动课，正是实现这些目标的一个</tspan><tspan x="153" dy="13.3">重要途径。在这一学期中，我通过面向全体学</tspan><tspan x="153" dy="13.3">生，创造机会，提供机会，让每一位学生都参</tspan><tspan x="153" dy="13.3">与和勇于创新，大胆放手，让学生成为活动的</tspan><tspan x="153" dy="13.3">主人两种途径，取得了令人满意的成效。</tspan></text></g>
<g id="b5-l5"><text class="t e" x="482" y="2921.7">五、注重学生情感、态度和价值观的培养。</text></g>
<g id="b5-t5"><text class="t" x="50" y="2848.1">数学教学促进学生全面和谐的发展。培养学生<tspan x="50" dy="13.3">，不仅要让学生掌握知识与技能，让学生经历</tspan><tspan x="50" dy="13.3">知识的形成过程，更要培养学生情感、态度和</tspan><tspan x="50" dy="13.3">价值观。如在学习了《圆的周长和面积》后，</tspan><tspan x="50" dy="13.3">我出示了这样一道问题，要求学生计算："</tspan><tspan x="50" dy="13.3">在一张边长为10厘米的正方形纸上，剪下一</tspan><tspan x="50" dy="13.3">个最大的圆，那么这个圆形的面积是多少"</tspan><tspan x="50" dy="13.3">。除了进行数学知识的教育外，巧妙渗透环保</tspan><tspan x="50" dy="13.3">教育，让学生学会环保，学生人与自然的和</tspan><tspan x="50" dy="13.3">谐相处。提醒学生在剪完圆形之后的纸千万</tspan><tspan x="50" dy="13.3">不要随手乱丢，要养成讲究卫生，保护环境的</tspan><tspan x="50" dy="13.3">良好习惯。</tspan></text></g>
</svg>
